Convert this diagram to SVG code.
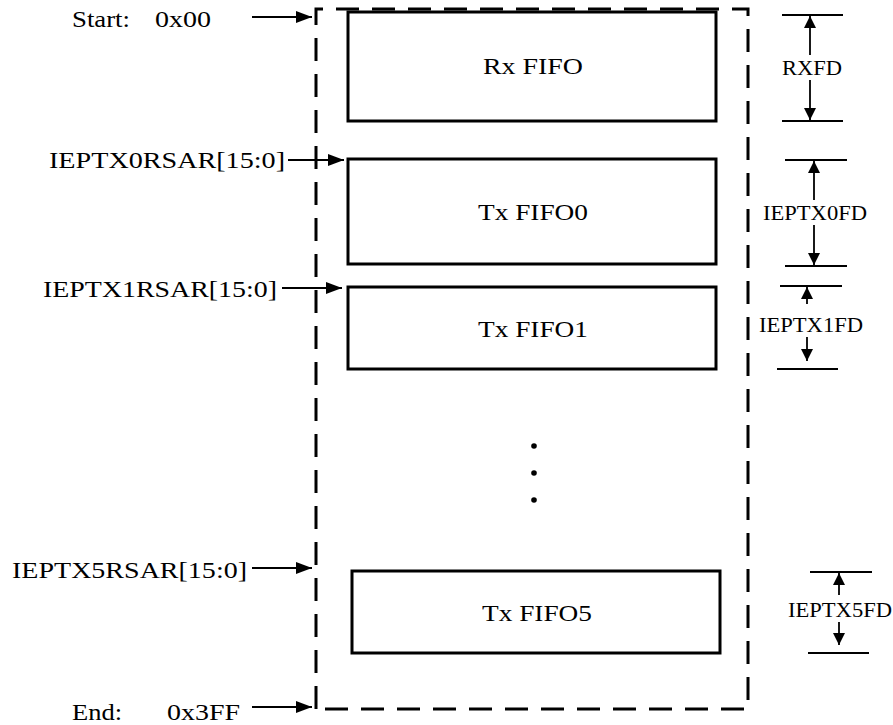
<svg xmlns="http://www.w3.org/2000/svg" width="893" height="725" viewBox="0 0 893 725">
<style>
text{font-family:"Liberation Serif","Times New Roman",serif;fill:#000}
.lbl{font-size:24px}
.dim{font-size:21px}
.box{fill:#fff;stroke:#000;stroke-width:3}
.frame{fill:none;stroke:#000;stroke-width:3;stroke-dasharray:23 13}
.arr{stroke:#000;stroke-width:2.2;fill:none}
.dl{stroke:#000;stroke-width:1.8;fill:none}
</style>
<defs>
<marker id="ah" viewBox="0 0 16 12" refX="16" refY="6" markerWidth="16" markerHeight="12" markerUnits="userSpaceOnUse" orient="auto">
<path d="M0,0 L16,6 L0,12 Z" fill="#000"/>
</marker>
<marker id="dh" viewBox="0 0 12 12" refX="12" refY="6" markerWidth="12" markerHeight="12" markerUnits="userSpaceOnUse" orient="auto">
<path d="M0,0 L12,6 L0,12 Z" fill="#000"/>
</marker>
</defs>
<rect width="893" height="725" fill="#fff"/>
<g id="memory-frame">
<path class="frame" d="M316,709 L316,9 L748,9 L748,709 Z"/>
</g>
<g id="rx-fifo">
<rect class="box" x="348" y="12" width="368" height="109"/>
<text class="lbl" x="533" y="74" text-anchor="middle" textLength="100" lengthAdjust="spacingAndGlyphs">Rx FIFO</text>
</g>
<g id="tx-fifo0">
<rect class="box" x="348" y="159" width="368" height="105"/>
<text class="lbl" x="533" y="220" text-anchor="middle" textLength="110" lengthAdjust="spacingAndGlyphs">Tx FIFO0</text>
</g>
<g id="tx-fifo1">
<rect class="box" x="348" y="287" width="368" height="82"/>
<text class="lbl" x="533" y="337" text-anchor="middle" textLength="110" lengthAdjust="spacingAndGlyphs">Tx FIFO1</text>
</g>
<g id="ellipsis">
<circle cx="534" cy="446" r="2.8" fill="#000"/>
<circle cx="534" cy="473" r="2.8" fill="#000"/>
<circle cx="534" cy="500" r="2.8" fill="#000"/>
</g>
<g id="tx-fifo5">
<rect class="box" x="352" y="571" width="368" height="82"/>
<text class="lbl" x="537" y="621" text-anchor="middle" textLength="110" lengthAdjust="spacingAndGlyphs">Tx FIFO5</text>
</g>
<g id="labels-left">
<text class="lbl" y="27"><tspan x="72" textLength="58" lengthAdjust="spacingAndGlyphs">Start:</tspan><tspan x="155" textLength="56" lengthAdjust="spacingAndGlyphs">0x00</tspan></text>
<text class="lbl" x="49" y="168" textLength="236" lengthAdjust="spacingAndGlyphs">IEPTX0RSAR[15:0]</text>
<text class="lbl" x="43" y="297" textLength="234" lengthAdjust="spacingAndGlyphs">IEPTX1RSAR[15:0]</text>
<text class="lbl" x="12" y="578" textLength="235" lengthAdjust="spacingAndGlyphs">IEPTX5RSAR[15:0]</text>
<text class="lbl" y="720"><tspan x="72" textLength="50" lengthAdjust="spacingAndGlyphs">End:</tspan><tspan x="167" textLength="73" lengthAdjust="spacingAndGlyphs">0x3FF</tspan></text>
</g>
<g id="connectors">
<line class="arr" x1="252" y1="17" x2="312" y2="17" marker-end="url(#ah)"/>
<line class="arr" x1="288" y1="160" x2="344" y2="160" marker-end="url(#ah)"/>
<line class="arr" x1="282" y1="288" x2="342" y2="288" marker-end="url(#ah)"/>
<line class="arr" x1="252" y1="568" x2="312" y2="568" marker-end="url(#ah)"/>
<line class="arr" x1="252" y1="707" x2="312" y2="707" marker-end="url(#ah)"/>
</g>
<g id="dim-rxfd">
<line class="dl" x1="782" y1="15" x2="843" y2="15"/>
<line class="dl" x1="782" y1="121" x2="843" y2="121"/>
<line class="dl" x1="810" y1="55" x2="810" y2="16" marker-end="url(#dh)"/>
<line class="dl" x1="810" y1="80" x2="810" y2="120" marker-end="url(#dh)"/>
<text class="dim" x="812" y="75" text-anchor="middle" textLength="60" lengthAdjust="spacingAndGlyphs">RXFD</text>
</g>
<g id="dim-ieptx0fd">
<line class="dl" x1="785" y1="160" x2="847" y2="160"/>
<line class="dl" x1="785" y1="266" x2="847" y2="266"/>
<line class="dl" x1="814" y1="200" x2="814" y2="161" marker-end="url(#dh)"/>
<line class="dl" x1="814" y1="225" x2="814" y2="265" marker-end="url(#dh)"/>
<text class="dim" x="815" y="220" text-anchor="middle" textLength="104" lengthAdjust="spacingAndGlyphs">IEPTX0FD</text>
</g>
<g id="dim-ieptx1fd">
<line class="dl" x1="780" y1="286" x2="842" y2="286"/>
<line class="dl" x1="777" y1="369" x2="838" y2="369"/>
<line class="dl" x1="807" y1="304" x2="807" y2="287" marker-end="url(#dh)"/>
<line class="dl" x1="807" y1="337" x2="807" y2="361" marker-end="url(#dh)"/>
<text class="dim" x="811" y="332" text-anchor="middle" textLength="104" lengthAdjust="spacingAndGlyphs">IEPTX1FD</text>
</g>
<g id="dim-ieptx5fd">
<line class="dl" x1="810" y1="572" x2="872" y2="572"/>
<line class="dl" x1="808" y1="653" x2="869" y2="653"/>
<line class="dl" x1="839" y1="595" x2="839" y2="573" marker-end="url(#dh)"/>
<line class="dl" x1="839" y1="622" x2="839" y2="645" marker-end="url(#dh)"/>
<text class="dim" x="840" y="617" text-anchor="middle" textLength="104" lengthAdjust="spacingAndGlyphs">IEPTX5FD</text>
</g>
</svg>
